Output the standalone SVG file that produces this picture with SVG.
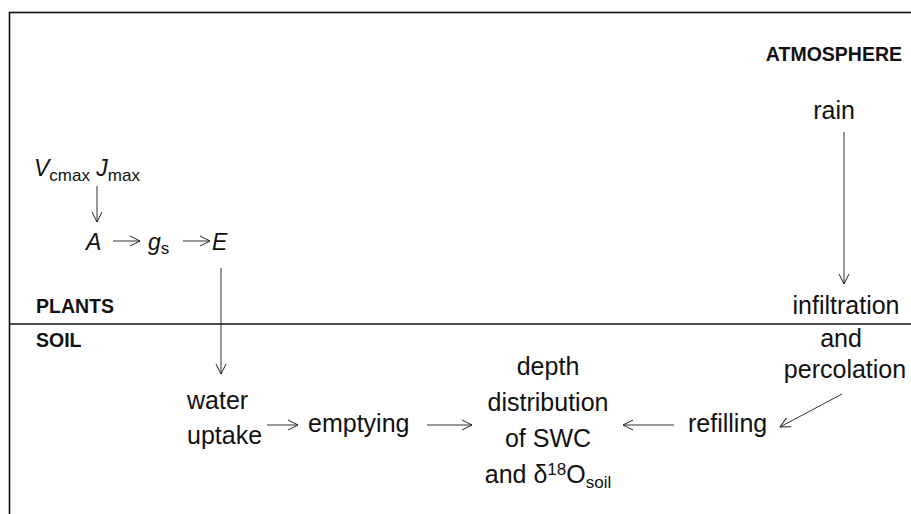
<svg xmlns="http://www.w3.org/2000/svg" width="911" height="514" viewBox="0 0 911 514">
<defs>
<marker id="ah" viewBox="0 0 12 12" refX="11" refY="6" markerWidth="12" markerHeight="12" markerUnits="userSpaceOnUse" orient="auto">
<path d="M1,1 L11,6 L1,11" fill="none" stroke="#222" stroke-width="1"/>
</marker>
<style>
.t{font-family:"Liberation Sans",Arial,sans-serif;font-size:25px;fill:#111}
.s{font-family:"Liberation Sans",Arial,sans-serif;font-size:23px;fill:#111}
.i{font-style:italic}
.sub{font-size:17px;font-style:normal}
.b{font-family:"Liberation Sans",Arial,sans-serif;font-size:19.5px;font-weight:bold;fill:#111}
.c{stroke:#333;stroke-width:1;fill:none;marker-end:url(#ah)}
.f{stroke:#111;stroke-width:1.6;fill:none}
</style>
</defs>
<rect id="frame" x="9.5" y="12.5" width="920" height="520" class="f"/>
<line id="divider" x1="9.5" y1="324" x2="911" y2="324" class="f"/>
<g id="labels">
<text class="b" x="902" y="61" text-anchor="end">ATMOSPHERE</text>
<text class="b" x="36" y="313">PLANTS</text>
<text class="b" x="36" y="347">SOIL</text>
</g>
<g id="rain"><text class="t" x="834" y="119" text-anchor="middle">rain</text></g>
<g id="infiltration"><text class="t" text-anchor="middle"><tspan x="846" y="314">infiltration</tspan><tspan x="841" y="347">and</tspan><tspan x="845" y="378">percolation</tspan></text></g>
<g id="vj"><text class="s" x="34" y="176"><tspan class="i">V</tspan><tspan class="sub" dy="5">cmax</tspan><tspan dy="-5"> </tspan><tspan class="i">J</tspan><tspan class="sub" dy="5">max</tspan></text></g>
<g id="A"><text class="s i" x="86" y="250">A</text></g>
<g id="gs"><text class="s" x="148" y="250"><tspan class="i">g</tspan><tspan class="sub" font-size="18" dy="4">s</tspan></text></g>
<g id="E"><text class="s i" x="212" y="250">E</text></g>
<g id="water"><text class="t"><tspan x="187" y="409">water</tspan><tspan x="187" y="444">uptake</tspan></text></g>
<g id="emptying"><text class="t" x="308" y="432">emptying</text></g>
<g id="depth"><text class="t" text-anchor="middle"><tspan x="548" y="375">depth</tspan><tspan x="548" y="411">distribution</tspan><tspan x="548" y="447">of SWC</tspan><tspan x="548" y="483">and δ<tspan font-size="17" dy="-8">18</tspan><tspan dy="8">O</tspan><tspan font-size="17" dy="5">soil</tspan></tspan></text></g>
<g id="refilling"><text class="t" x="688" y="432">refilling</text></g>
<g id="connectors">
<line class="c" x1="97" y1="186" x2="97" y2="222"/>
<line class="c" x1="113" y1="241" x2="140" y2="241"/>
<line class="c" x1="183" y1="241" x2="210" y2="241"/>
<line class="c" x1="221" y1="268" x2="221" y2="374"/>
<line class="c" x1="844" y1="132" x2="844" y2="284"/>
<line class="c" x1="267" y1="425" x2="298" y2="425"/>
<line class="c" x1="427" y1="425" x2="472" y2="425"/>
<line class="c" x1="674" y1="425" x2="623" y2="425"/>
<line class="c" x1="842" y1="394" x2="780" y2="427"/>
</g>
</svg>
